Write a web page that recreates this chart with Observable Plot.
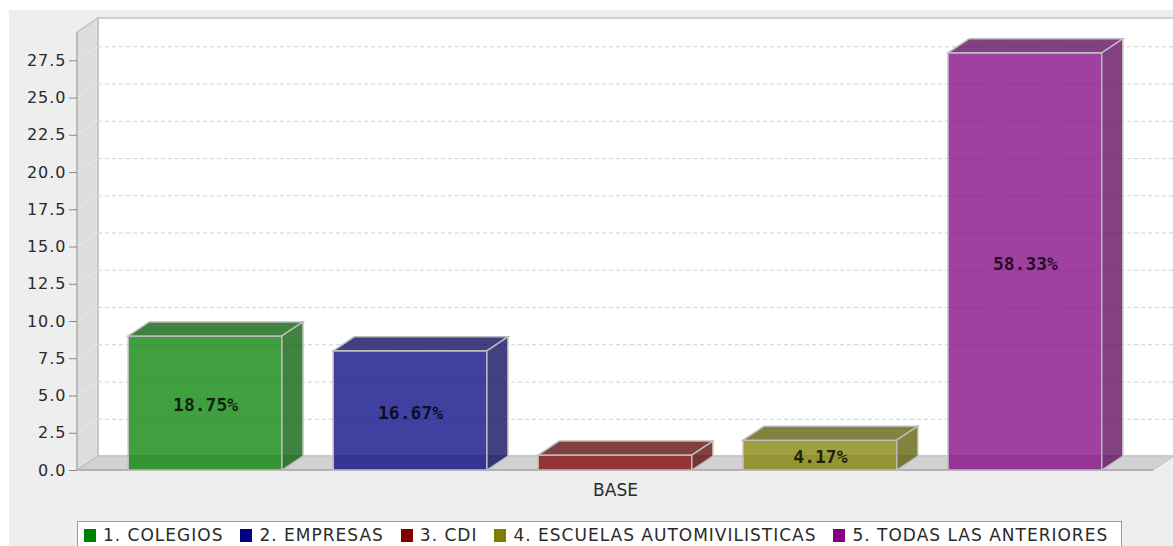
<!DOCTYPE html>
<html><head><meta charset="utf-8">
<script src="https://cdn.jsdelivr.net/npm/d3@7"></script>
<script src="https://cdn.jsdelivr.net/npm/@observablehq/plot@0.6"></script>
<style>
html,body{margin:0;padding:0;background:#fff;overflow:hidden;width:1173px;height:546px;}
#panel{position:absolute;left:9px;top:10px;width:1164px;height:536px;background:#eeeeee;}
#chart{position:absolute;left:0;top:0;}
#chart svg g[aria-label="y-axis tick label"] text{letter-spacing:1px;}
#legend{position:absolute;left:77px;top:521px;width:1045px;height:40px;background:#fff;border:1px solid #9a9a9a;box-sizing:border-box;font-family:"DejaVu Sans";font-size:17px;color:#2a2a2a;display:flex;align-items:flex-start;padding-top:5px;padding-left:6px;}
.item{display:flex;align-items:center;margin-right:17px;letter-spacing:1.0px;white-space:nowrap;line-height:17px;}
.sw{width:12px;height:13px;margin-right:7px;flex:none;}
</style></head><body>
<div id="panel"></div><div id="chart"></div><div id="legend"></div>
<script>
const category = "BASE";
const series = ["1. COLEGIOS", "2. EMPRESAS", "3. CDI", "4. ESCUELAS AUTOMIVILISTICAS", "5. TODAS LAS ANTERIORES"];
const values = [9, 8, 1, 2, 28];
const pctLabels = ["18.75%", "16.67%", "", "4.17%", "58.33%"];
const colors = ["#008000", "#000080", "#800000", "#808000", "#800080"];
const yTicks = [0, 2.5, 5, 7.5, 10, 12.5, 15, 17.5, 20, 22.5, 25, 27.5];
const yMax = 29.4;

const DX = 21, DY = 14;
const data = series.map((s, i) => ({series: s, value: values[i], label: pctLabels[i]}));

const chart = Plot.plot({
  width: 1173, height: 516,
  marginLeft: 77, marginRight: 20, marginTop: 32, marginBottom: 46,
  style: {background: "transparent", fontFamily: "DejaVu Sans", overflow: "visible"},
  x: {domain: series, paddingInner: 0.25, paddingOuter: 0.25, round: false, axis: null},
  y: {domain: [0, yMax], axis: null},
  color: {domain: series, range: colors},
  marks: [
    Plot.frame({stroke: "none", render(index, scales, values, dim, ctx, next) {
      const g = d3.create("svg:g");
      const L = dim.marginLeft, R = dim.width - dim.marginRight, T = dim.marginTop, B = dim.height - dim.marginBottom;
      g.append("rect").attr("x", L + DX).attr("y", T - DY).attr("width", R - L).attr("height", B - T)
        .attr("fill", "#fff").attr("stroke", "#c4c4c4").attr("stroke-width", 1.5);
      g.append("path").attr("d", `M${L},${B}L${L},${T}L${L+DX},${T-DY}L${L+DX},${B-DY}Z`)
        .attr("fill", "#dddddd").attr("stroke", "#bdbdbd").attr("stroke-width", 1.2);
      g.append("path").attr("d", `M${L},${B}L${L+DX},${B-DY}L${R+DX},${B-DY}L${R},${B}Z`)
        .attr("fill", "#d2d2d2").attr("stroke", "#bdbdbd").attr("stroke-width", 1);
      for (const t of yTicks) {
        if (t <= 0) continue;
        const y = scales.y(t);
        g.append("line").attr("x1", L).attr("y1", y).attr("x2", L + DX).attr("y2", y - DY)
          .attr("stroke", "#e9e9e9").attr("stroke-width", 1);
      }
      g.append("line").attr("x1", L).attr("y1", B).attr("x2", R).attr("y2", B).attr("stroke", "#a8a8a8").attr("stroke-width", 1.5);
      g.append("line").attr("x1", L).attr("y1", T).attr("x2", L).attr("y2", B).attr("stroke", "#b4b4b4").attr("stroke-width", 1.5);
      return g.node();
    }}),
    Plot.ruleY(yTicks.filter(t => t > 0), {dx: DX, dy: -DY, stroke: "#d0d0d0", strokeDasharray: "4,3", strokeWidth: 1}),
    Plot.barY(data, {
      x: "series", y: "value", fill: "series", fillOpacity: 0.75,
      stroke: "#bcbcbc", strokeWidth: 1.5,
      render(index, scales, values, dim, ctx, next) {
        const g = next(index, scales, values, dim, ctx);
        const sel = d3.select(g);
        for (const r of sel.selectAll("rect").nodes()) {
          const x = +r.getAttribute("x"), y = +r.getAttribute("y");
          const w = +r.getAttribute("width"), h = +r.getAttribute("height");
          const dark = d3.color(r.getAttribute("fill")).darker(1).formatHex();
          sel.append("path").attr("fill", dark)
            .attr("d", `M${x},${y}L${x+DX},${y-DY}L${x+w+DX},${y-DY}L${x+w},${y}Z`);
          sel.append("path").attr("fill", dark)
            .attr("d", `M${x+w},${y}L${x+w+DX},${y-DY}L${x+w+DX},${y+h-DY}L${x+w},${y+h}Z`);
        }
        return g;
      }
    }),
    Plot.text(data.filter(d => d.label), {
      x: "series", y: d => d.value / 2, text: "label", dy: 2,
      fontFamily: "DejaVu Sans Mono", fontWeight: "bold", fontSize: 18,
      fill: "#000", fillOpacity: 0.8
    }),
    Plot.axisY({ticks: yTicks, tickFormat: d3.format(".1f"), tickSize: 8, tickPadding: 3,
      fontSize: 16, stroke: "#8a8a8a", fill: "#2a2a2a", label: null}),
    Plot.text([category], {text: d => d, frameAnchor: "bottom", lineAnchor: "middle", dy: 20, fontSize: 17, fill: "#2a2a2a"})
  ]
});
document.getElementById("chart").append(chart);

const legend = document.getElementById("legend");
series.forEach((s, i) => {
  const item = document.createElement("div");
  item.className = "item";
  const sw = document.createElement("span");
  sw.className = "sw";
  sw.style.background = colors[i];
  const tx = document.createElement("span");
  tx.textContent = s;
  item.append(sw, tx);
  legend.append(item);
});
</script>
</body></html>
